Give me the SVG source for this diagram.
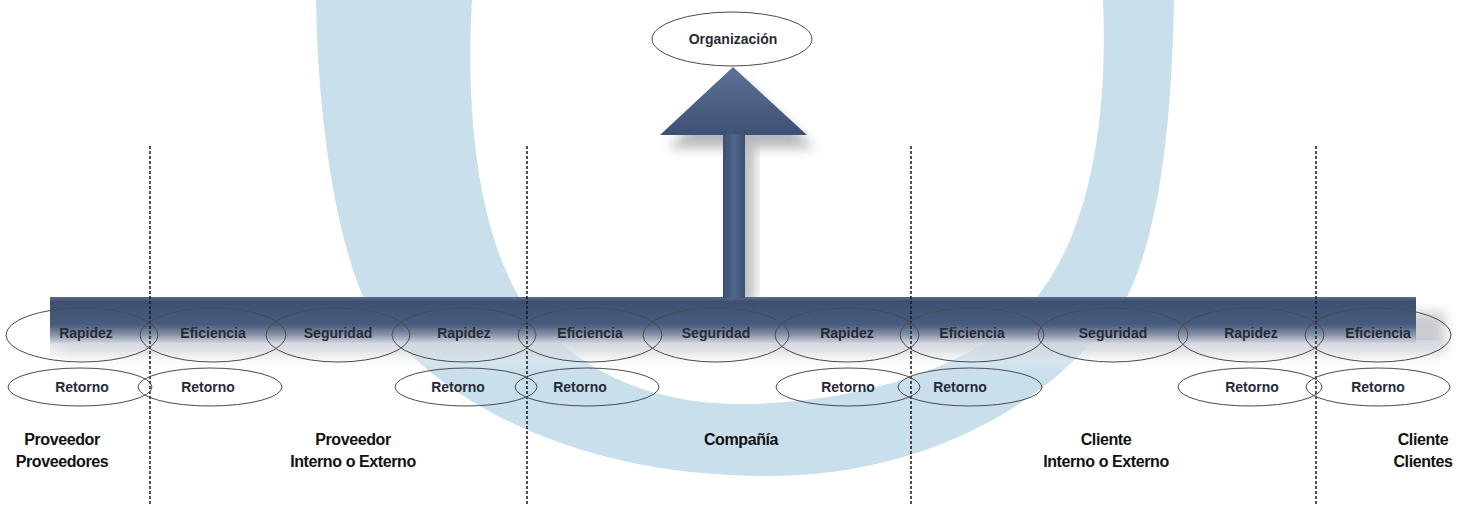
<svg xmlns="http://www.w3.org/2000/svg" width="1470" height="506" viewBox="0 0 1470 506">
<style>
.e{fill:none;stroke:#4a4a4a;stroke-width:1}
.t{font-family:"Liberation Sans",Arial,sans-serif;font-weight:bold;font-size:14px;fill:#262b35;text-anchor:middle}
.b{font-family:"Liberation Sans",Arial,sans-serif;font-weight:bold;font-size:16px;fill:#111;text-anchor:middle;letter-spacing:-0.4px}
.d{stroke:#1a1a1a;stroke-width:1.5;stroke-dasharray:3 2;fill:none}
</style>
<defs>
<linearGradient id="barG" x1="0" y1="0" x2="0" y2="1">
<stop offset="0" stop-color="#5a6d8d"/>
<stop offset="0.1" stop-color="#3d5072"/>
<stop offset="0.6" stop-color="#475b7c"/>
<stop offset="0.82" stop-color="#8893a8"/>
<stop offset="1" stop-color="#ced4dd"/>
</linearGradient>
<linearGradient id="shG" x1="0" y1="0" x2="0" y2="1">
<stop offset="0" stop-color="#d3d8e0" stop-opacity="0.95"/>
<stop offset="1" stop-color="#ffffff" stop-opacity="0"/>
</linearGradient>
<linearGradient id="headG" x1="0" y1="0" x2="0" y2="1">
<stop offset="0" stop-color="#5c7396"/>
<stop offset="1" stop-color="#3c5175"/>
</linearGradient>
<linearGradient id="shaftG" x1="0" y1="0" x2="1" y2="0">
<stop offset="0" stop-color="#3a4f71"/>
<stop offset="0.5" stop-color="#50688c"/>
<stop offset="1" stop-color="#3a4f71"/>
</linearGradient>
<filter id="blur" x="-20%" y="-20%" width="140%" height="140%">
<feGaussianBlur stdDeviation="6"/>
</filter>
</defs>
<rect width="1470" height="506" fill="#ffffff"/>
<path id="watermark" fill="#c9dfeb" d="M316 0 C318 120 335 230 363 297 C420 390 560 476 766 476 C930 476 1060 400 1127 297 C1160 230 1172 120 1174 0 L1103 0 C1108 120 1090 230 1037 297 C980 370 850 404 740 404 C650 404 570 370 519 297 C480 230 465 120 472 0 Z"/>
<g id="shadows">
<polygon points="741,80 668,148 815,148" fill="#6f737a" opacity="0.5" filter="url(#blur)"/>
<rect x="733" y="146" width="22" height="158" fill="#6f737a" opacity="0.45" filter="url(#blur)"/>
<rect x="60" y="312" width="1385" height="40" fill="#8c8f96" opacity="0.45" filter="url(#blur)"/>
<rect x="50" y="340" width="1390" height="32" fill="url(#shG)"/>
</g>
<g id="bar">
<rect x="50" y="297" width="1366" height="46" fill="url(#barG)"/>
</g>
<g id="connectors">
<polygon points="733,67 660,135 807,135" fill="url(#headG)"/>
<rect x="723" y="134" width="22" height="164" fill="url(#shaftG)"/>
<line class="d" x1="150" y1="146" x2="150" y2="506"/>
<line class="d" x1="527" y1="146" x2="527" y2="506"/>
<line class="d" x1="911" y1="146" x2="911" y2="506"/>
<line class="d" x1="1316" y1="146" x2="1316" y2="506"/>
</g>
<g id="organizacion">
<ellipse class="e" cx="732" cy="39" rx="80" ry="27" style="fill:#fff"/>
<text class="t" x="733" y="44" font-size="13">Organización</text>
</g>
<g id="n1"><ellipse class="e" cx="82" cy="335" rx="76" ry="27"/><text class="t" x="86" y="338">Rapidez</text></g>
<g id="n2"><ellipse class="e" cx="213" cy="335" rx="73" ry="27"/><text class="t" x="213" y="338">Eficiencia</text></g>
<g id="n3"><ellipse class="e" cx="338" cy="335" rx="72" ry="27"/><text class="t" x="338" y="338">Seguridad</text></g>
<g id="n4"><ellipse class="e" cx="464" cy="335" rx="72" ry="27"/><text class="t" x="464" y="338">Rapidez</text></g>
<g id="n5"><ellipse class="e" cx="590" cy="335" rx="72" ry="27"/><text class="t" x="590" y="338">Eficiencia</text></g>
<g id="n6"><ellipse class="e" cx="716" cy="335" rx="73" ry="27"/><text class="t" x="716" y="338">Seguridad</text></g>
<g id="n7"><ellipse class="e" cx="847" cy="335" rx="72" ry="27"/><text class="t" x="847" y="338">Rapidez</text></g>
<g id="n8"><ellipse class="e" cx="972" cy="335" rx="72" ry="27"/><text class="t" x="972" y="338">Eficiencia</text></g>
<g id="n9"><ellipse class="e" cx="1113" cy="335" rx="75" ry="27"/><text class="t" x="1113" y="338">Seguridad</text></g>
<g id="n10"><ellipse class="e" cx="1251" cy="335" rx="73" ry="27"/><text class="t" x="1251" y="338">Rapidez</text></g>
<g id="n11"><ellipse class="e" cx="1378" cy="335" rx="73" ry="27"/><text class="t" x="1378" y="338">Eficiencia</text></g>
<g id="r1"><ellipse class="e" cx="80" cy="387" rx="72" ry="19"/><text class="t" x="82" y="392">Retorno</text></g>
<g id="r2"><ellipse class="e" cx="210" cy="387" rx="72" ry="19"/><text class="t" x="208" y="392">Retorno</text></g>
<g id="r3"><ellipse class="e" cx="466" cy="387" rx="71" ry="19"/><text class="t" x="458" y="392">Retorno</text></g>
<g id="r4"><ellipse class="e" cx="587" cy="387" rx="72" ry="19"/><text class="t" x="580" y="392">Retorno</text></g>
<g id="r5"><ellipse class="e" cx="848" cy="387" rx="72" ry="19"/><text class="t" x="848" y="392">Retorno</text></g>
<g id="r6"><ellipse class="e" cx="970" cy="387" rx="72" ry="19"/><text class="t" x="960" y="392">Retorno</text></g>
<g id="r7"><ellipse class="e" cx="1250" cy="387" rx="72" ry="19"/><text class="t" x="1252" y="392">Retorno</text></g>
<g id="r8"><ellipse class="e" cx="1378" cy="387" rx="72" ry="19"/><text class="t" x="1378" y="392">Retorno</text></g>
<g id="labels">
<text class="b" x="62" y="445">Proveedor</text>
<text class="b" x="62" y="467">Proveedores</text>
<text class="b" x="353" y="445">Proveedor</text>
<text class="b" x="353" y="467">Interno o Externo</text>
<text class="b" x="741" y="445">Compañía</text>
<text class="b" x="1106" y="445">Cliente</text>
<text class="b" x="1106" y="467">Interno o Externo</text>
<text class="b" x="1423" y="445">Cliente</text>
<text class="b" x="1423" y="467">Clientes</text>
</g>
</svg>
